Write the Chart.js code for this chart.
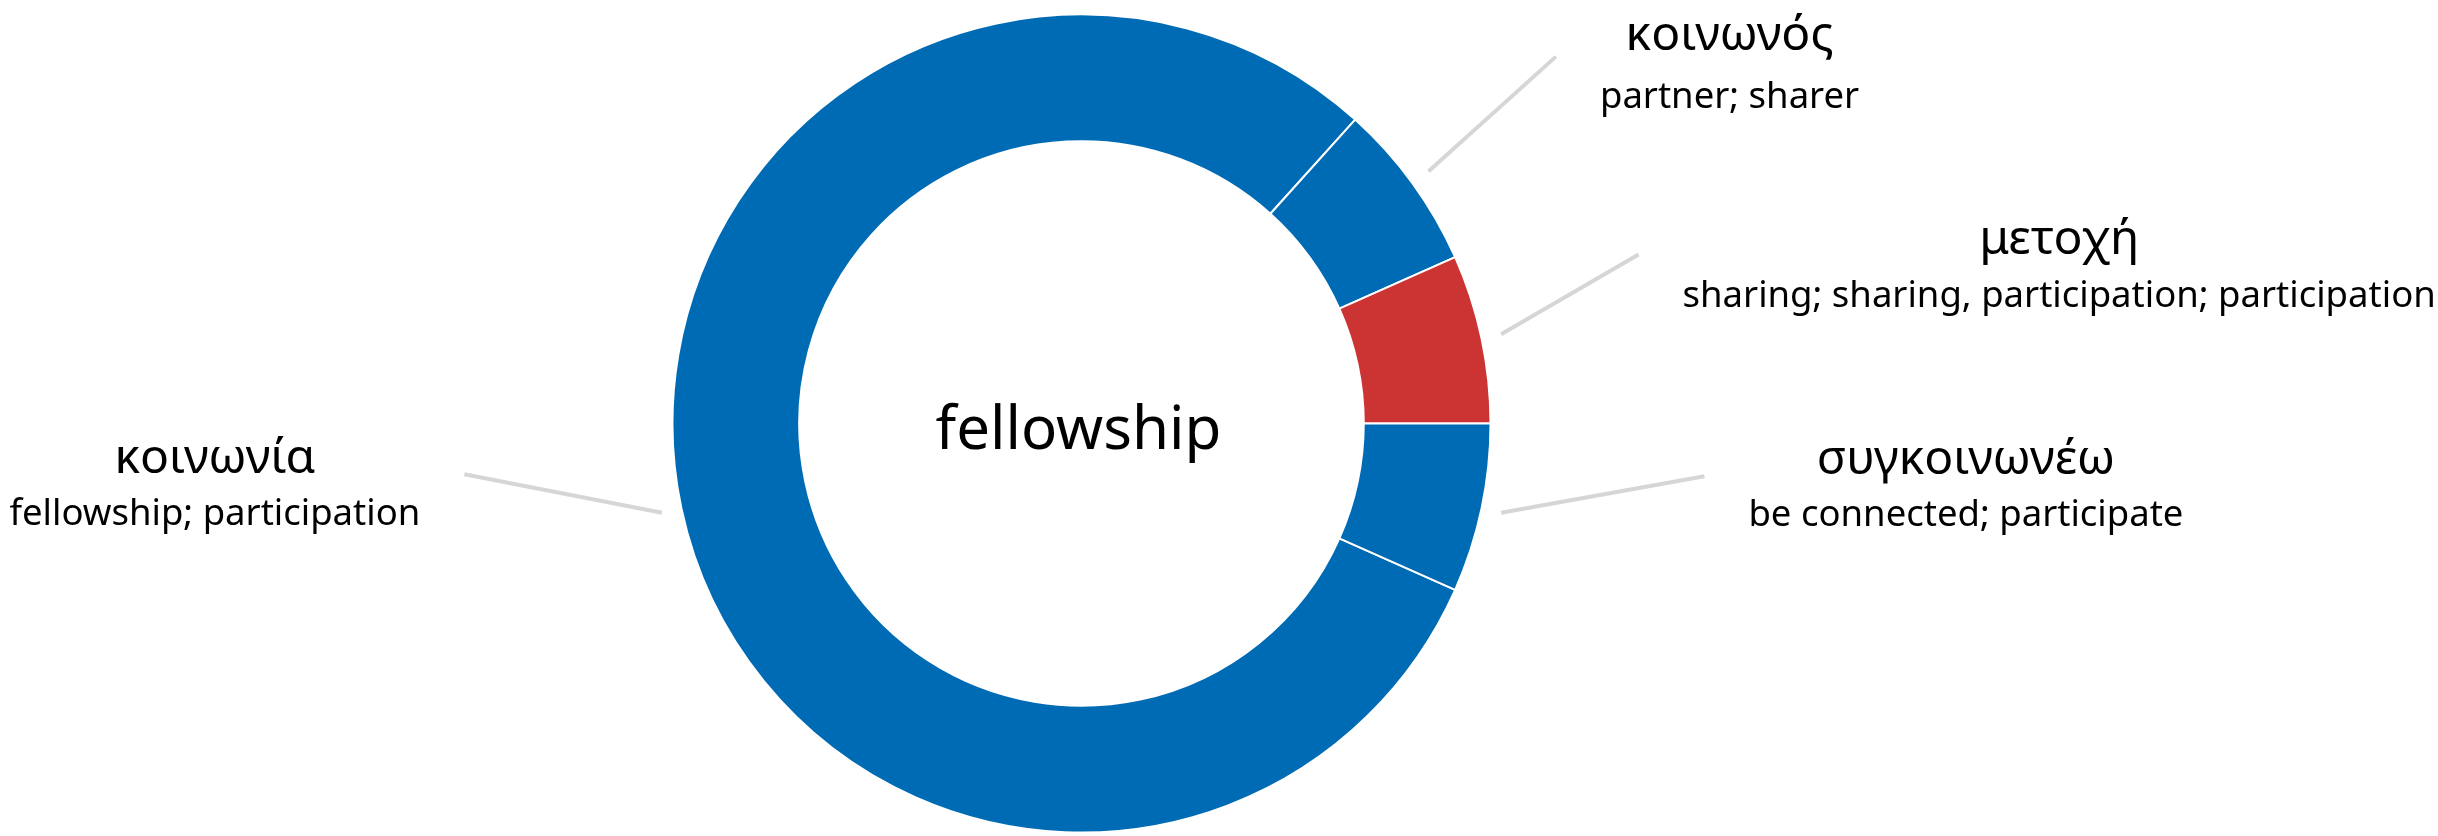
<!DOCTYPE html>
<html>
<head>
<meta charset="utf-8">
<script src="https://cdn.jsdelivr.net/npm/chart.js@4"></script>
<style>
    html, body { margin: 0; padding: 0; background: #fff; }
    #wrap { width: 2438px; height: 836px; position: relative; }
</style>
</head>
<body>
<div id="wrap"><canvas id="wordChart"></canvas></div>
<script>
// Chart data
const words = ['κοινωνία', 'κοινωνός', 'μετοχή', 'συγκοινωνέω'];
const glosses = [
    'fellowship; participation',
    'partner; sharer',
    'sharing; sharing, participation; participation',
    'be connected; participate'
];
const counts = [12, 1, 1, 1];
const centerWord = 'fellowship';

// Styling
const BLUE = '#006bb5';
const RED = '#cc3434';
const sliceColors = [BLUE, BLUE, RED, BLUE];
const FONT = '"Noto Sans", sans-serif';

// Where each leader line ends, relative to the chart centre in units of the outer radius,
// plus the baseline offsets of the two text lines from that end point
const labelLayout = [
    { dx: -1.509, dy: 0.124, title: -1, sub: 51 },
    { dx: 1.160, dy: -0.897, title: -7, sub: 51 },
    { dx: 1.362, dy: -0.413, title: -1, sub: 52 },
    { dx: 1.523, dy: 0.129, title: -2, sub: 50 }
];

document.addEventListener('DOMContentLoaded', function() {
    const canvas = document.getElementById('wordChart');

    // Draws the outside labels, their leader lines and the centre word
    const labelPlugin = {
        id: 'wordLabels',
        afterDraw(chart) {
            const ctx = chart.ctx;
            const meta = chart.getDatasetMeta(0);
            ctx.save();
            meta.data.forEach((arc, i) => {
                const p = arc.getProps(['x', 'y', 'startAngle', 'endAngle', 'outerRadius'], true);
                const mid = (p.startAngle + p.endAngle) / 2;
                const r0 = p.outerRadius + 20;
                const sx = p.x + Math.cos(mid) * r0;
                const sy = p.y + Math.sin(mid) * r0;
                const lay = labelLayout[i];
                const ex = p.x + lay.dx * p.outerRadius;
                const ey = p.y + lay.dy * p.outerRadius;

                ctx.strokeStyle = '#d6d6d6';
                ctx.lineWidth = 4;
                ctx.beginPath();
                ctx.moveTo(sx, sy);
                ctx.lineTo(ex, ey);
                ctx.stroke();

                ctx.font = '48px ' + FONT;
                const tw = ctx.measureText(words[i]).width;
                ctx.font = '36.5px ' + FONT;
                const gw = ctx.measureText(glosses[i]).width;
                const blockW = Math.max(tw, gw);
                const right = lay.dx >= 0;
                const cx = right ? ex + 44 + blockW / 2 : ex - 44 - blockW / 2;

                ctx.fillStyle = '#000';
                ctx.textAlign = 'center';
                ctx.textBaseline = 'alphabetic';
                ctx.font = '48px ' + FONT;
                ctx.fillText(words[i], cx, ey + lay.title);
                ctx.font = '36.5px ' + FONT;
                ctx.fillText(glosses[i], cx, ey + lay.sub);
            });

            const first = meta.data[0];
            ctx.font = '60px ' + FONT;
            ctx.fillStyle = '#000';
            ctx.textAlign = 'center';
            ctx.textBaseline = 'alphabetic';
            ctx.fillText(centerWord, first.x - 3, first.y + 25);
            ctx.restore();
        }
    };

    new Chart(canvas, {
        type: 'doughnut',
        data: {
            labels: words,
            datasets: [{
                data: counts,
                backgroundColor: sliceColors,
                borderColor: '#ffffff',
                borderWidth: 2
            }]
        },
        options: {
            responsive: true,
            maintainAspectRatio: false,
            animation: false,
            rotation: 114,
            radius: 409,
            cutout: 284,
            layout: {
                padding: { left: 0, right: 275, top: 11, bottom: 0 }
            },
            plugins: {
                legend: { display: false },
                tooltip: { enabled: false }
            }
        },
        plugins: [labelPlugin]
    });
});
</script>
</body>
</html>
